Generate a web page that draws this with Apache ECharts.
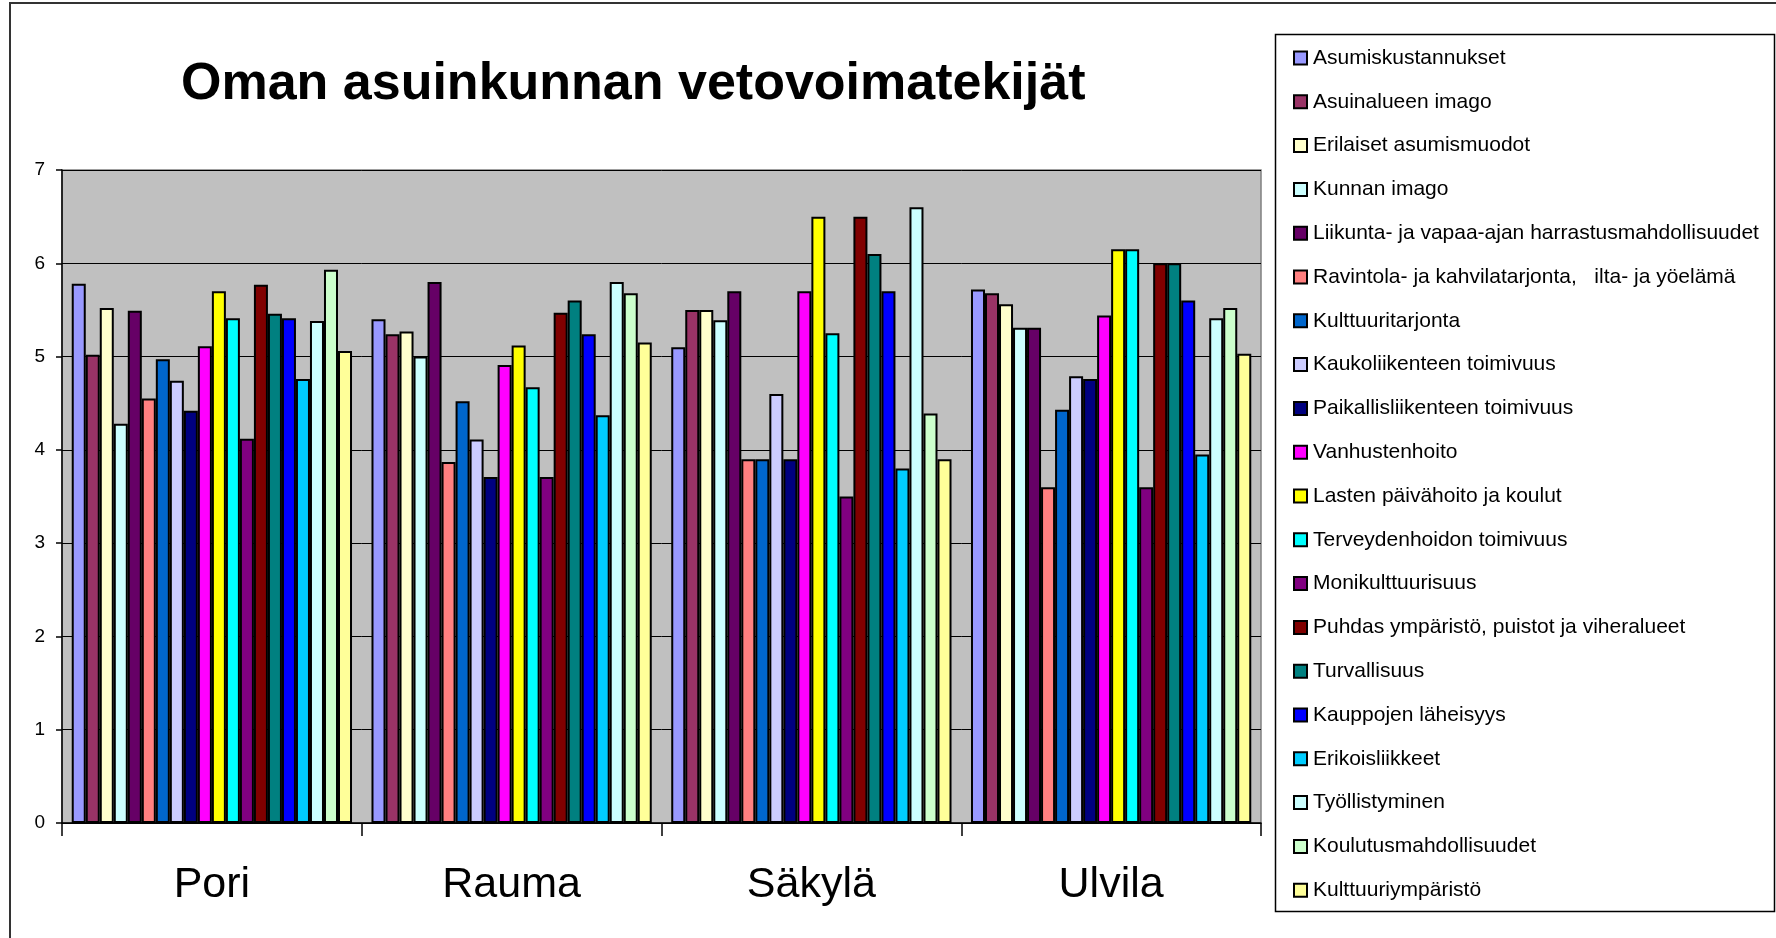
<!DOCTYPE html>
<html lang="fi">
<head>
    <meta charset="UTF-8">
    <title>Oman asuinkunnan vetovoimatekijät</title>
    <script src="https://cdn.jsdelivr.net/npm/echarts@6.0.0/dist/echarts.min.js"></script>
    <style>
        html, body { margin: 0; padding: 0; background: #fff; }
    </style>
</head>
<body>
    <div id="container" style="width: 1776px; height: 938px"></div>
    <script>
        // kunnat
        var cities = ['Pori', 'Rauma', 'Säkylä', 'Ulvila'];

        // vetovoimatekijät (sarjat)
        var factors = [
            'Asumiskustannukset',
            'Asuinalueen imago',
            'Erilaiset asumismuodot',
            'Kunnan imago',
            'Liikunta- ja vapaa-ajan harrastusmahdollisuudet',
            'Ravintola- ja kahvilatarjonta,   ilta- ja yöelämä',
            'Kulttuuritarjonta',
            'Kaukoliikenteen toimivuus',
            'Paikallisliikenteen toimivuus',
            'Vanhustenhoito',
            'Lasten päivähoito ja koulut',
            'Terveydenhoidon toimivuus',
            'Monikulttuurisuus',
            'Puhdas ympäristö, puistot ja viheralueet',
            'Turvallisuus',
            'Kauppojen läheisyys',
            'Erikoisliikkeet',
            'Työllistyminen',
            'Koulutusmahdollisuudet',
            'Kulttuuriympäristö'
        ];

        // arvot kunnittain, samassa järjestyksessä kuin factors
        var pori   = [5.78, 5.02, 5.52, 4.28, 5.49, 4.55, 4.97, 4.74, 4.42, 5.11, 5.70, 5.41, 4.12, 5.77, 5.46, 5.41, 4.76, 5.38, 5.93, 5.06];
        var rauma  = [5.40, 5.24, 5.27, 5.00, 5.80, 3.87, 4.52, 4.11, 3.71, 4.91, 5.12, 4.67, 3.71, 5.47, 5.60, 5.24, 4.37, 5.80, 5.68, 5.15];
        var sakyla = [5.10, 5.50, 5.50, 5.39, 5.70, 3.90, 3.90, 4.60, 3.90, 5.70, 6.50, 5.25, 3.50, 6.50, 6.10, 5.70, 3.80, 6.60, 4.39, 3.90];
        var ulvila = [5.72, 5.68, 5.56, 5.31, 5.31, 3.60, 4.43, 4.79, 4.76, 5.44, 6.15, 6.15, 3.60, 6.00, 6.00, 5.60, 3.95, 5.41, 5.52, 5.03];

        // y-akselin asteikko
        var yTicks = [0, 1, 2, 3, 4, 5, 6, 7];

        var colors = [
            '#9999FF', '#993366', '#FFFFCC', '#CCFFFF', '#660066',
            '#FF8080', '#0066CC', '#CCCCFF', '#000080', '#FF00FF',
            '#FFFF00', '#00FFFF', '#800080', '#800000', '#008080',
            '#0000FF', '#00CCFF', '#CCFFFF', '#CCFFCC', '#FFFF99'
        ];

        var font = 'Liberation Sans, Arial, sans-serif';
        var byCity = [pori, rauma, sakyla, ulvila];

        var series = factors.map(function (name, i) {
            return {
                name: name,
                type: 'bar',
                barGap: 0,
                barCategoryGap: '6.5%',
                data: byCity.map(function (arr) { return arr[i]; }),
                itemStyle: { color: colors[i], borderColor: '#000', borderWidth: 2 },
                emphasis: { disabled: true },
                animation: false
            };
        });

        var chartDom = document.getElementById('container');
        var myChart = echarts.init(chartDom);

        myChart.setOption({
            animation: false,
            color: colors,
            title: {
                text: 'Oman asuinkunnan vetovoimatekijät',
                left: 181,
                top: 59,
                padding: 0,
                textStyle: { fontFamily: font, fontSize: 52, fontWeight: 'bold', color: '#000' }
            },
            graphic: [
                {
                    type: 'rect',
                    shape: { x: 10, y: 3, width: 1800, height: 1000 },
                    style: { fill: null, stroke: '#333', lineWidth: 2 },
                    silent: true
                },
                {
                    type: 'rect',
                    shape: { x: 1275.5, y: 34.5, width: 499, height: 877 },
                    style: { fill: '#fff', stroke: '#000', lineWidth: 1.5 },
                    silent: true,
                    z: -1
                }
            ],
            legend: {
                orient: 'vertical',
                left: 1293,
                top: 47,
                padding: 0,
                itemWidth: 13,
                itemHeight: 13,
                itemGap: 21.8,
                icon: 'rect',
                selectedMode: false,
                itemStyle: { borderColor: '#000', borderWidth: 2 },
                textStyle: { fontFamily: font, fontSize: 21, color: '#000', lineHeight: 22, padding: [0, 0, 0, 1] },
                data: factors
            },
            grid: {
                left: 62,
                right: 515,
                top: 170,
                bottom: 115,
                show: true,
                backgroundColor: '#C0C0C0',
                borderColor: '#808080',
                borderWidth: 1.5
            },
            xAxis: {
                type: 'category',
                data: cities,
                axisLine: { lineStyle: { color: '#000', width: 1.5 } },
                axisTick: { show: true, length: 13, lineStyle: { color: '#000', width: 1.5 } },
                axisLabel: { fontFamily: font, fontSize: 43, color: '#000', margin: 41 },
                splitLine: { show: false }
            },
            yAxis: {
                type: 'value',
                min: yTicks[0],
                max: yTicks[yTicks.length - 1],
                interval: 1,
                axisLine: { show: true, lineStyle: { color: '#000', width: 1.5 } },
                axisTick: { show: true, length: 6, lineStyle: { color: '#000', width: 1.5 } },
                axisLabel: { fontFamily: font, fontSize: 19, color: '#000', margin: 17 },
                splitLine: { show: true, lineStyle: { color: '#000', width: 1 } }
            },
            series: series
        });
    </script>
</body>
</html>
